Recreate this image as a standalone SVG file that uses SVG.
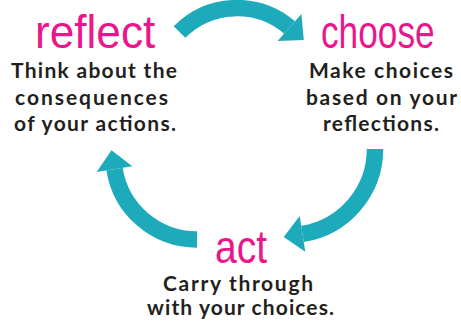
<svg xmlns="http://www.w3.org/2000/svg" width="461" height="324" viewBox="0 0 461 324">
<style>
.arc{fill:none;stroke:#1DAABB;stroke-width:16.5;stroke-linecap:butt}
.head{fill:#1DAABB;stroke:none}
.title{font-family:"Liberation Sans","DejaVu Sans",sans-serif;font-size:47px;fill:#EA178C;text-anchor:start}
.body{font-family:"Lato","Noto Sans",sans-serif;font-weight:700;font-size:21px;fill:#231F20;text-anchor:start}
</style>
<rect width="461" height="324" fill="#FFFFFF"/>
<g id="connectors">
  <g id="arrow-reflect-choose">
    <path class="arc" d="M179.5,32 A81,81 0 0 1 289.5,27.5"/>
    <polygon class="head" points="303.8,40 301.4,14 277.6,41"/>
  </g>
  <g id="arrow-choose-act">
    <path class="arc" d="M375,149 A86,86 0 0 1 302.5,233.9"/>
    <polygon class="head" points="283.7,236.9 305.3,251.7 299.7,216.1"/>
  </g>
  <g id="arrow-act-reflect">
    <path class="arc" d="M197,239.5 A83.5,83.5 0 0 1 114.5,169.1"/>
    <polygon class="head" points="111.5,150.3 132.3,166.3 96.7,171.9"/>
  </g>
</g>
<g id="node-reflect">
  <text class="title" transform="translate(35,48) scale(0.94,1)">reflect</text>
  <text class="body" x="11" y="78" textLength="166" lengthAdjust="spacing">Think about the</text>
  <text class="body" x="15" y="104.5" textLength="153" lengthAdjust="spacing">consequences</text>
  <text class="body" x="14" y="131" textLength="162" lengthAdjust="spacing">of your actions.</text>
</g>
<g id="node-choose">
  <text class="title" transform="translate(321,48) scale(0.75,1)">choose</text>
  <text class="body" x="309" y="77.5" textLength="144" lengthAdjust="spacing">Make choices</text>
  <text class="body" x="306" y="104.5" textLength="151" lengthAdjust="spacing">based on your</text>
  <text class="body" x="323" y="131" textLength="116" lengthAdjust="spacing">reflections.</text>
</g>
<g id="node-act">
  <text class="title" transform="translate(215,263) scale(0.83,1)">act</text>
  <text class="body" x="163" y="291" textLength="150" lengthAdjust="spacing">Carry through</text>
  <text class="body" x="147" y="314.5" textLength="187" lengthAdjust="spacing">with your choices.</text>
</g>
</svg>
